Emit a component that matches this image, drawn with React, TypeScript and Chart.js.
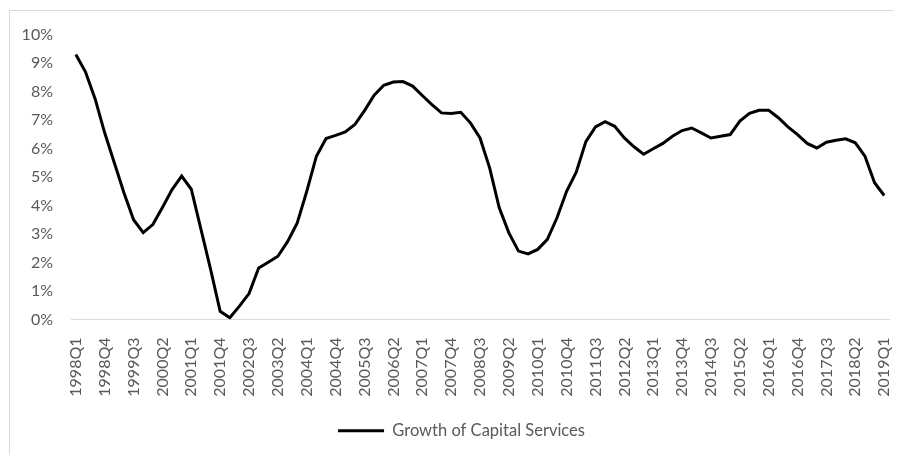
import React, { useEffect, useRef } from "react";
import { Chart, registerables } from "chart.js";

Chart.register(...registerables);

const quarters: string[] = [
  "1998Q1", "1998Q2", "1998Q3", "1998Q4",
  "1999Q1", "1999Q2", "1999Q3", "1999Q4",
  "2000Q1", "2000Q2", "2000Q3", "2000Q4",
  "2001Q1", "2001Q2", "2001Q3", "2001Q4",
  "2002Q1", "2002Q2", "2002Q3", "2002Q4",
  "2003Q1", "2003Q2", "2003Q3", "2003Q4",
  "2004Q1", "2004Q2", "2004Q3", "2004Q4",
  "2005Q1", "2005Q2", "2005Q3", "2005Q4",
  "2006Q1", "2006Q2", "2006Q3", "2006Q4",
  "2007Q1", "2007Q2", "2007Q3", "2007Q4",
  "2008Q1", "2008Q2", "2008Q3", "2008Q4",
  "2009Q1", "2009Q2", "2009Q3", "2009Q4",
  "2010Q1", "2010Q2", "2010Q3", "2010Q4",
  "2011Q1", "2011Q2", "2011Q3", "2011Q4",
  "2012Q1", "2012Q2", "2012Q3", "2012Q4",
  "2013Q1", "2013Q2", "2013Q3", "2013Q4",
  "2014Q1", "2014Q2", "2014Q3", "2014Q4",
  "2015Q1", "2015Q2", "2015Q3", "2015Q4",
  "2016Q1", "2016Q2", "2016Q3", "2016Q4",
  "2017Q1", "2017Q2", "2017Q3", "2017Q4",
  "2018Q1", "2018Q2", "2018Q3", "2018Q4",
  "2019Q1",
];

// Growth of capital services, percent
const growthOfCapitalServices: number[] = [
  9.30, 8.69, 7.75, 6.55, 5.5, 4.45, 3.5, 3.05, 3.33, 3.93,
  4.56, 5.03, 4.57, 3.17, 1.77, 0.29, 0.06, 0.47, 0.91, 1.81,
  2.01, 2.22, 2.73, 3.38, 4.5, 5.73, 6.35, 6.46, 6.58, 6.84,
  7.33, 7.87, 8.22, 8.33, 8.35, 8.19, 7.86, 7.54, 7.25, 7.23,
  7.27, 6.9, 6.37, 5.32, 3.92, 3.04, 2.4, 2.3, 2.46, 2.81,
  3.57, 4.5, 5.17, 6.24, 6.76, 6.94, 6.78, 6.37, 6.06, 5.8,
  5.99, 6.18, 6.43, 6.63, 6.72, 6.55, 6.37, 6.43, 6.49, 6.96,
  7.23, 7.34, 7.34, 7.08, 6.76, 6.49, 6.18, 6.02, 6.22, 6.29,
  6.34, 6.2, 5.73, 4.8, 4.35,
];

const seriesName = "Growth of Capital Services";
const yMin = 0;
const yMax = 10;
const yStep = 1;
const labelEvery = 3;

const legendShift = {
  id: "legendShift",
  afterLayout(chart: any) {
    const lg = chart.legend;
    if (lg) {
      lg.left += 12;
      lg.right += 12;
    }
  },
};

const noScalePadding = (scale: any) => {
  scale.paddingTop = 0;
  scale.paddingBottom = 0;
  scale.paddingLeft = 0;
  scale.paddingRight = 0;
};

export default function App() {
  const canvasRef = useRef<HTMLCanvasElement | null>(null);

  useEffect(() => {
    document.body.style.overflow = "hidden";
    const canvas = canvasRef.current;
    if (!canvas) return;
    const textColor = "#595959";
    const font = { family: "Lato", size: 16 };
    const chart = new Chart(canvas, {
      type: "line",
      data: {
        labels: quarters,
        datasets: [
          {
            label: seriesName,
            data: growthOfCapitalServices,
            borderColor: "#000000",
            backgroundColor: "#000000",
            borderWidth: 3,
            pointRadius: 0,
            pointHoverRadius: 0,
            tension: 0,
            fill: false,
          },
        ],
      },
      options: {
        animation: false,
        responsive: false,
        maintainAspectRatio: false,
        devicePixelRatio: 1,
        layout: {
          padding: { top: 23.5, right: 12, bottom: 8, left: 0 },
        },
        plugins: {
          tooltip: { enabled: false },
          legend: {
            display: true,
            position: "bottom",
            labels: {
              color: textColor,
              font: { family: "Lato", size: 16.5 },
              usePointStyle: true,
              pointStyle: "line",
              pointStyleWidth: 46,
              padding: 10,
            },
          },
        },
        scales: {
          x: {
            type: "category",
            offset: true,
            grid: { display: false, drawTicks: false },
            border: { display: true, color: "#d9d9d9", width: 1 },
            ticks: {
              autoSkip: false,
              minRotation: 90,
              maxRotation: 90,
              padding: 18,
              color: textColor,
              font,
              callback: (_v: any, index: number) =>
                index % labelEvery === 0 ? quarters[index] : null,
            },
            afterFit: (scale: any) => {
              scale.height = 93;
              noScalePadding(scale);
            },
          },
          y: {
            type: "linear",
            min: yMin,
            max: yMax,
            grid: { display: false, drawTicks: false },
            border: { display: false },
            ticks: {
              stepSize: yStep,
              padding: 18,
              color: textColor,
              font,
              callback: (v: any) => `${v}%`,
            },
            afterFit: (scale: any) => {
              scale.width = 61;
              noScalePadding(scale);
            },
          },
        },
      },
      plugins: [legendShift],
    });
    return () => chart.destroy();
  }, []);

  return (
    <div
      style={{
        position: "relative",
        left: 1,
        top: 2,
        width: 891,
        height: 446,
        borderLeft: "1px solid #d9d9d9",
        borderTop: "1px solid #d9d9d9",
      }}
    >
      <canvas ref={canvasRef} width={891} height={446} style={{ display: "block" }} />
    </div>
  );
}
